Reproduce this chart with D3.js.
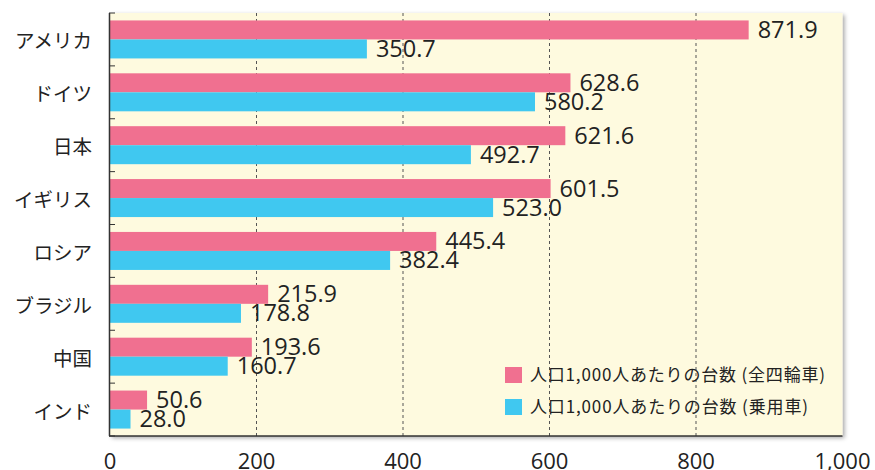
<!DOCTYPE html>
<html><head><meta charset="utf-8">
<script src="https://cdn.jsdelivr.net/npm/d3@7"></script>
<style>body{margin:0;background:#fff;}svg{display:block;font-family:"Noto Sans CJK JP","Noto Sans",sans-serif;}</style>
</head><body><svg id="c" width="875" height="470"></svg>
<script>
const categories = ["アメリカ","ドイツ","日本","イギリス","ロシア","ブラジル","中国","インド"];
const allVehicles = [871.9,628.6,621.6,601.5,445.4,215.9,193.6,50.6];
const passengerCars = [350.7,580.2,492.7,523.0,382.4,178.8,160.7,28.0];
const xTicks = [0,200,400,600,800,1000];
const seriesNames = ["人口1,000人あたりの台数 (全四輪車)","人口1,000人あたりの台数 (乗用車)"];
const colors = ["#f07090","#40c8f0"];

const svg = d3.select("#c");
const L=110, R=842.5, T=13, B=436;
const x = d3.scaleLinear().domain([0,1000]).range([L,R]);
const y = d3.scaleBand().domain(categories).range([T,B]).paddingInner(0).paddingOuter(0);
const numFont = "'Open Sans','Noto Sans',sans-serif";

// shadow
const defs = svg.append("defs");
const f = defs.append("filter").attr("id","sh").attr("x","-5%").attr("y","-5%").attr("width","110%").attr("height","115%");
f.append("feDropShadow").attr("dx",2).attr("dy",2).attr("stdDeviation",2).attr("flood-color","#000").attr("flood-opacity",0.35);
svg.append("rect").attr("x",L).attr("y",T).attr("width",R-L).attr("height",B-T).attr("fill","#fefadf").attr("filter","url(#sh)");

// gridlines
svg.append("g").selectAll("line").data(xTicks.filter(d=>d>0&&d<1000)).join("line")
  .attr("x1",d=>x(d)).attr("x2",d=>x(d)).attr("y1",T).attr("y2",B)
  .attr("stroke","#555").attr("stroke-width",1).attr("stroke-dasharray","3,3");

const bh = 19;
const off = (y.bandwidth()-2*bh)/2;
const gb = svg.append("g");
categories.forEach((c,i)=>{
  const y0 = y(c)+off;
  gb.append("rect").attr("x",x(0)).attr("y",y0).attr("width",x(allVehicles[i])-x(0)).attr("height",bh).attr("fill",colors[0]);
  gb.append("rect").attr("x",x(0)).attr("y",y0+bh).attr("width",x(passengerCars[i])-x(0)).attr("height",bh).attr("fill",colors[1]);
});
categories.forEach((c,i)=>{
  const y0 = y(c)+off;
  gb.append("text").attr("x",x(allVehicles[i])+9).attr("y",y0+bh/2-0.5).attr("dy","0.36em")
    .attr("font-family",numFont).attr("font-size",23.5).attr("fill","#222").text(allVehicles[i].toFixed(1));
  gb.append("text").attr("x",x(passengerCars[i])+9).attr("y",y0+bh*1.5-0.5).attr("dy","0.36em")
    .attr("font-family",numFont).attr("font-size",23.5).attr("fill","#222").text(passengerCars[i].toFixed(1));
});

// left axis
svg.append("line").attr("x1",L-0.5).attr("x2",L-0.5).attr("y1",T).attr("y2",B).attr("stroke","#333").attr("stroke-width",1.5);
const bounds = categories.map(c=>y(c)).concat([B]);
svg.append("g").selectAll("line").data(bounds).join("line")
  .attr("x1",L-1).attr("x2",L+5).attr("y1",d=>d).attr("y2",d=>d).attr("stroke","#333").attr("stroke-width",1);
svg.append("g").selectAll("text").data(categories).join("text")
  .attr("x",92).attr("y",d=>y(d)+y.bandwidth()/2+2).attr("dy","0.36em").attr("text-anchor","end")
  .attr("font-size",19.5).attr("fill","#222").text(d=>d);

// bottom axis
svg.append("line").attr("x1",L-1).attr("x2",R).attr("y1",B).attr("y2",B).attr("stroke","#333").attr("stroke-width",1.5);
svg.append("g").selectAll("text").data(xTicks).join("text")
  .attr("x",d=>x(d)).attr("y",469).attr("text-anchor","middle")
  .attr("font-family",numFont).attr("font-size",22).attr("fill","#222").text(d=>d3.format(",")(d));

// legend
const lg = svg.append("g");
const legLen = [295, 278];
seriesNames.forEach((s,i)=>{
  lg.append("rect").attr("x",505).attr("y",367+i*32).attr("width",17).attr("height",16).attr("fill",colors[i]);
  lg.append("text").attr("x",530).attr("y",375+i*32).attr("dy","0.36em").attr("font-size",17)
    .attr("textLength",legLen[i]).attr("lengthAdjust","spacing").attr("fill","#222").text(s);
});
</script></body></html>
